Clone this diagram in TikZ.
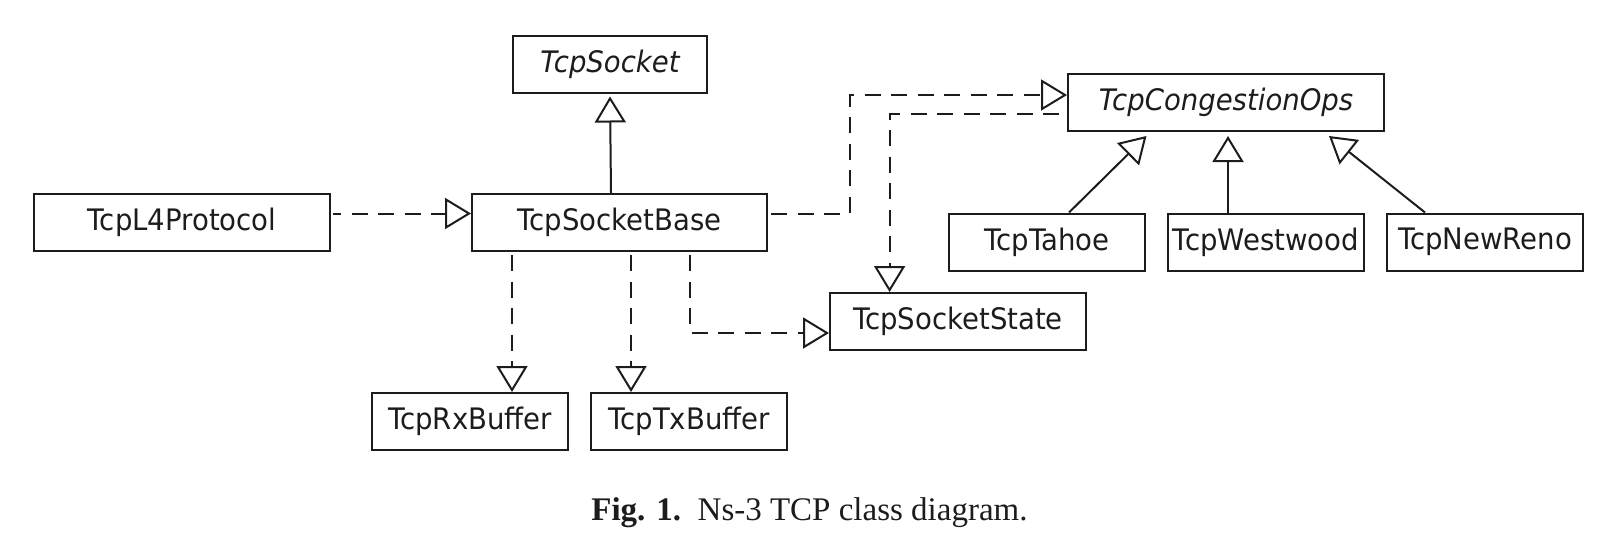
\documentclass[tikz,border=0pt]{standalone}
\usepackage{fontspec}
\usepackage{graphicx}
\setmainfont{DejaVu Sans}
\newfontfamily\capfont{Liberation Serif}
\usetikzlibrary{arrows.meta,calc}
\definecolor{lc}{HTML}{1C1C1C}
\newcommand{\clsname}[1]{\scalebox{0.93}[1]{#1}}
\tikzset{
  cls/.style={draw=lc, line width=2pt, minimum height=57pt, inner sep=0pt,
              text=lc, font=\fontsize{29.6}{34}\selectfont},
  inh/.style={draw=lc, line width=2pt,
              -{Triangle[open, length=26pt, width=31pt, fill=white]}},
  dep/.style={inh, dash pattern=on 16pt off 10.5pt},
}
\begin{document}
\begin{tikzpicture}[x=1pt,y=-1pt]
\useasboundingbox (0,0) rectangle (1617,549);
% classes
\node[cls, minimum width=194pt] (sock)  at (610,64)    {\clsname{\itshape TcpSocket}};
\node[cls, minimum width=296pt] (l4)    at (182,222.5) {\clsname{TcpL4Protocol}};
\node[cls, minimum width=295pt] (base)  at (619.5,222.5) {\clsname{TcpSocketBase}};
\node[cls, minimum width=316pt] (cong)  at (1226,102.5) {\clsname{\itshape TcpCongestionOps}};
\node[cls, minimum width=196pt] (tahoe) at (1047,242)  {\clsname{TcpTahoe}};
\node[cls, minimum width=196pt] (west)  at (1266,242)  {\clsname{TcpWestwood}};
\node[cls, minimum width=196pt] (reno)  at (1485,242)  {\clsname{TcpNewReno}};
\node[cls, minimum width=256pt] (state) at (958,321.5) {\clsname{TcpSocketState}};
\node[cls, minimum width=196pt] (rx)    at (470,421.5) {\clsname{TcpRxBuffer}};
\node[cls, minimum width=196pt] (tx)    at (689,421.5) {\clsname{TcpTxBuffer}};
% caption
\node[anchor=base, text=lc, inner sep=0pt, font=\capfont\fontsize{33}{38}\selectfont] (cap) at (809.5,520)
  {\textbf{Fig. 1.}\enspace Ns-3 TCP class diagram.};
% bend points
\coordinate (k1) at (849.5,95);
% connectors
\draw[inh] ([xshift=-8.5pt]base.north) -- ([yshift=-3pt]sock.south);
\draw[dep, dash phase=8pt] ([shift={(2pt,9pt)}]l4.east) -- ([yshift=9pt]base.west);
\draw[dep] ([shift={(3pt,9pt)}]base.east) -| (k1) -- ([yshift=7.5pt]cong.west);
\draw[dep] ([shift={(-8pt,-11.5pt)}]cong.west) -| ([xshift=-68.4pt]state.north);
\draw[dep] ([shift={(70.5pt,-3pt)}]base.south) |- ([yshift=-11.5pt]state.west);
\draw[dep] ([shift={(-107.5pt,-3pt)}]base.south) -- ([xshift=-107.5pt]base.south |- rx.north);
\draw[dep] ([shift={(11.5pt,-3pt)}]base.south) -- ([xshift=11.5pt]base.south |- tx.north);
\draw[inh] ([xshift=22pt]tahoe.north) -- ([shift={(-79.5pt,-4pt)}]cong.south);
\draw[inh] ([xshift=-38pt]west.north) -- ([shift={(2pt,-4pt)}]cong.south);
\draw[inh] ([xshift=-60pt]reno.north) -- ([shift={(103pt,-4pt)}]cong.south);
\end{tikzpicture}
\end{document}
